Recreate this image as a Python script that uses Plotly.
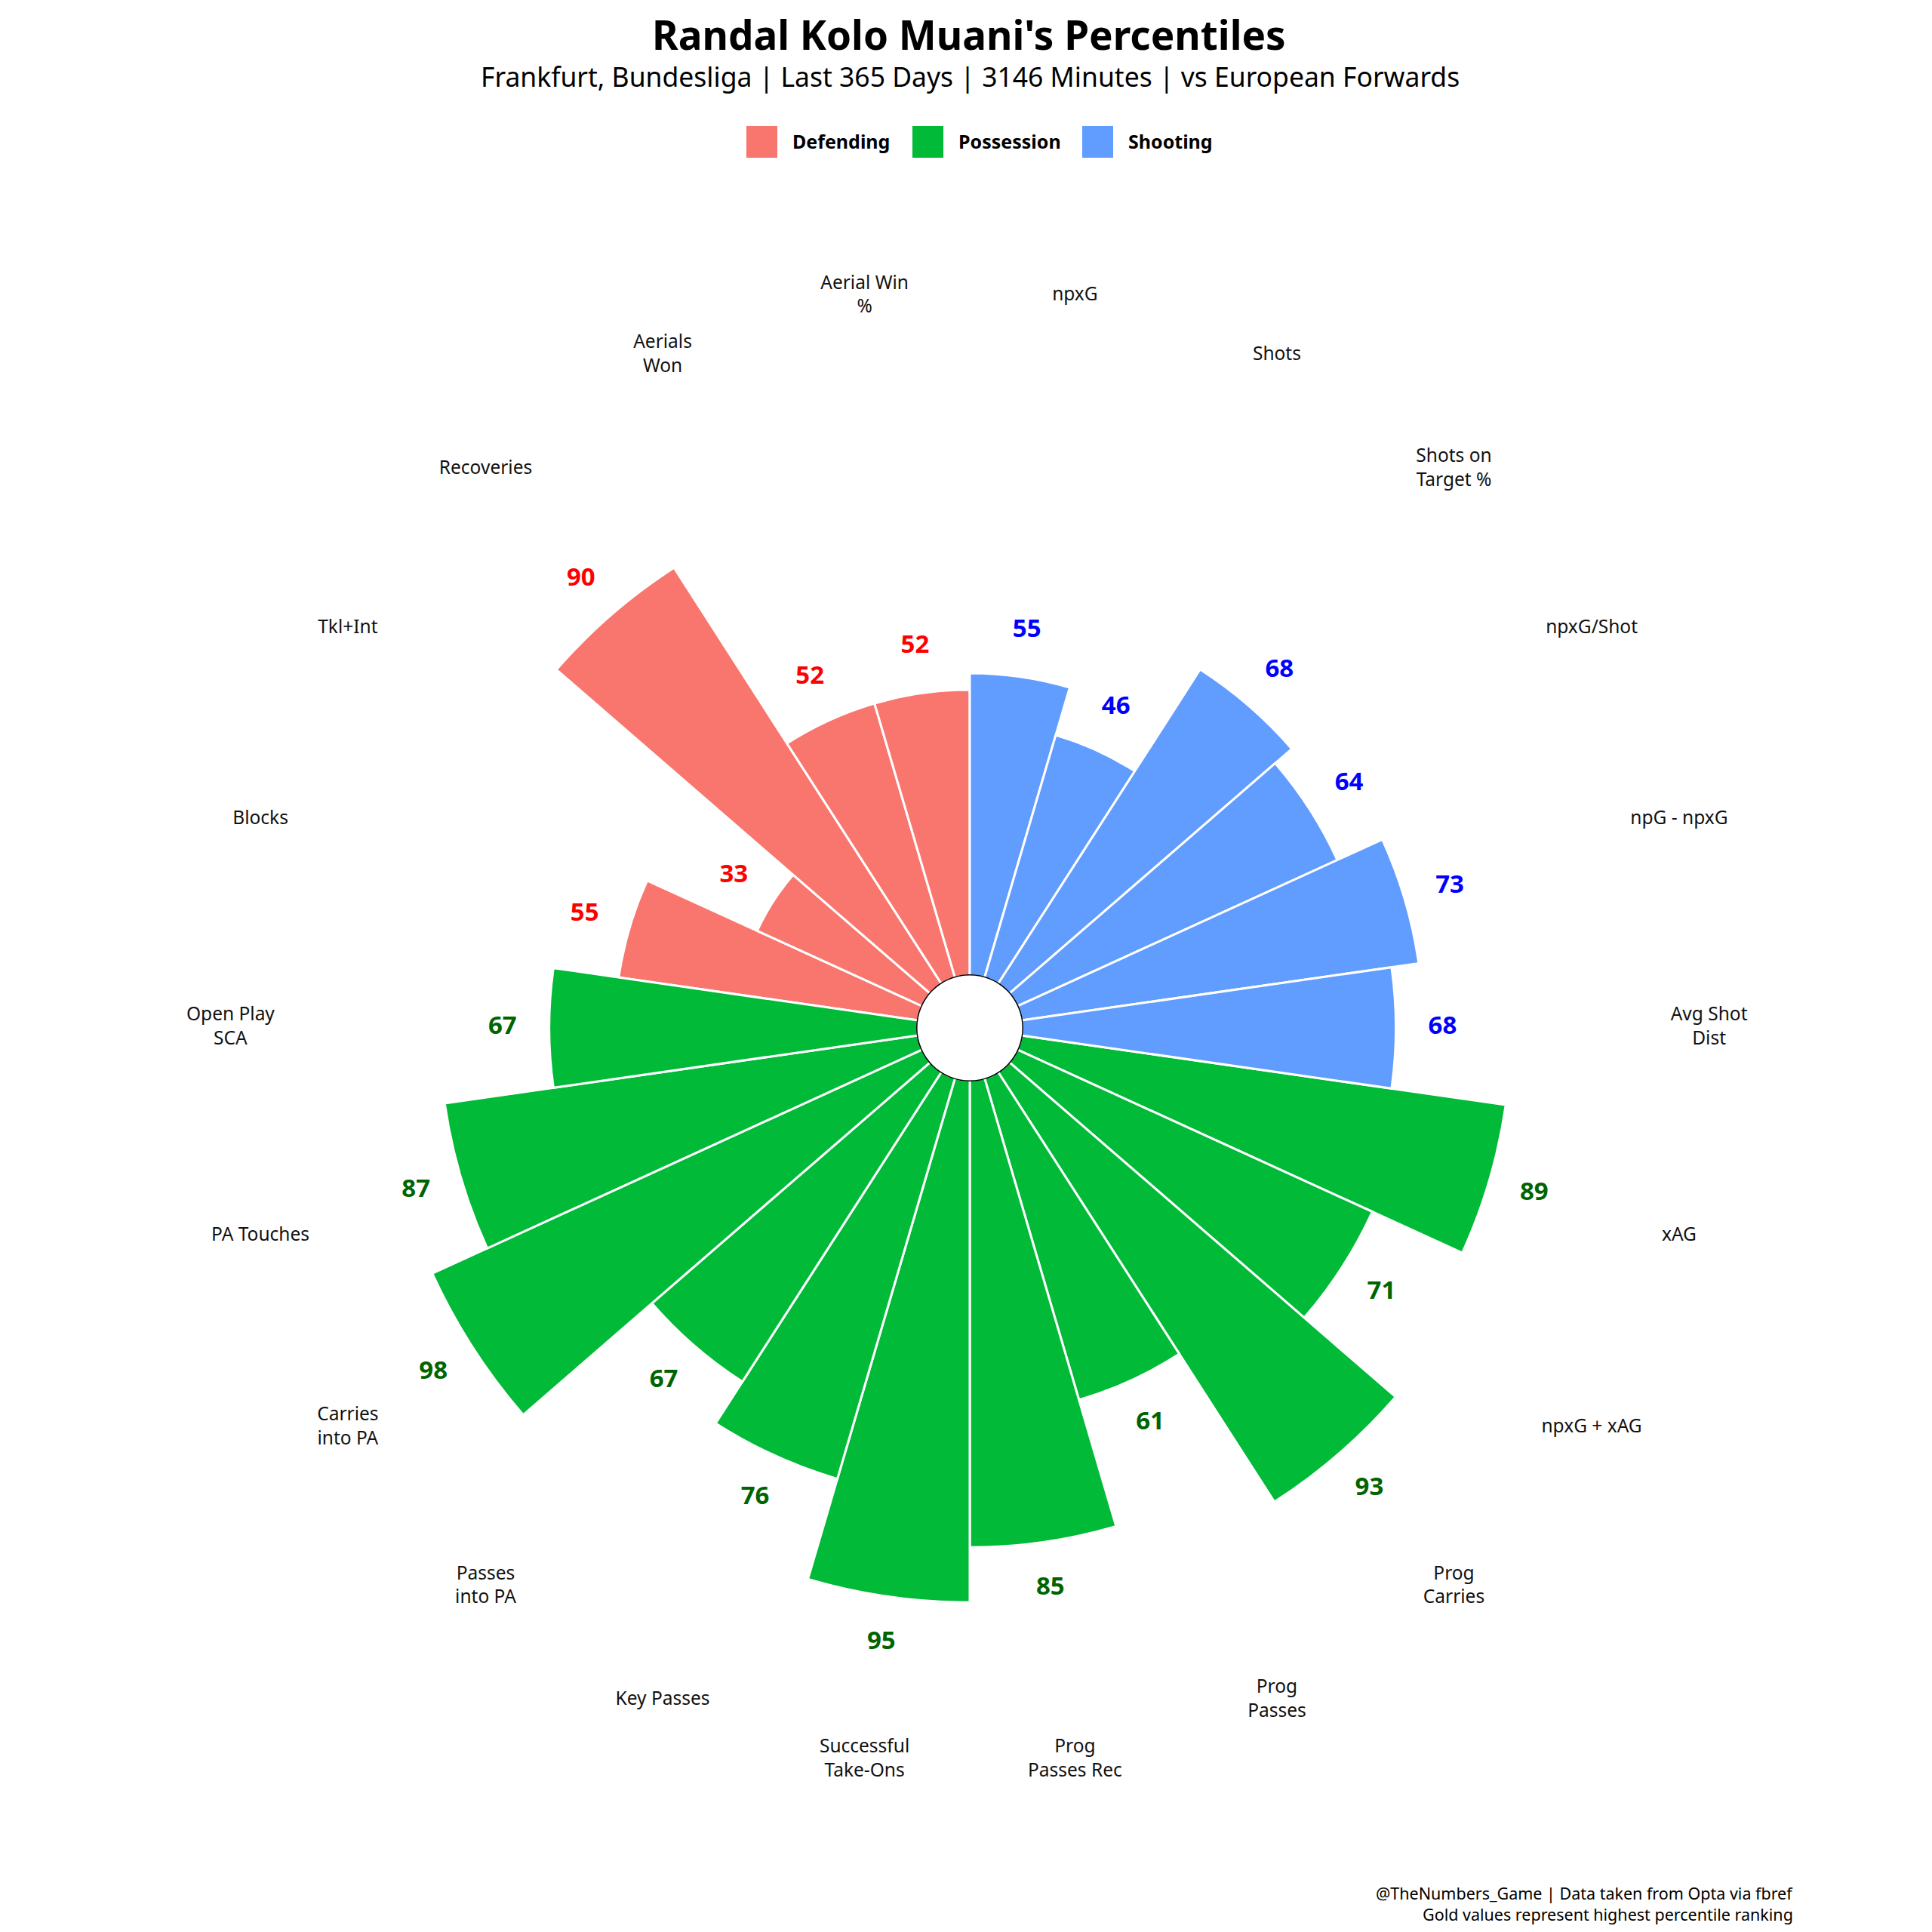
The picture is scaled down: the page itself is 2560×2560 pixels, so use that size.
import numpy as np
import plotly.graph_objects as go

# data, clockwise from 12 o'clock
metrics = [
    "npxG", "Shots", "Shots on<br>Target %", "npxG/Shot", "npG - npxG", "Avg Shot<br>Dist",
    "xAG", "npxG + xAG", "Prog<br>Carries", "Prog<br>Passes", "Prog<br>Passes Rec",
    "Successful<br>Take-Ons", "Key Passes", "Passes<br>into PA", "Carries<br>into PA",
    "PA Touches", "Open Play<br>SCA",
    "Blocks", "Tkl+Int", "Recoveries", "Aerials<br>Won", "Aerial Win<br>%",
]
percentiles = [55, 46, 68, 64, 73, 68,
               89, 71, 93, 61, 85, 95, 76, 67, 98, 87, 67,
               55, 33, 90, 52, 52]
groups = ["Shooting"] * 6 + ["Possession"] * 11 + ["Defending"] * 5

group_order = ["Defending", "Possession", "Shooting"]
bar_colors = {"Defending": "#F8766D", "Possession": "#00BA38", "Shooting": "#619CFF"}
text_colors = {"Defending": "#FF0000", "Possession": "#006400", "Shooting": "#0000FF"}

# page body has an 8px margin, so the figure is a bit smaller than the window
PAGE = 2560
OFF = 8
W = H = PAGE - 2 * OFF
FONT = "Noto Sans"

n = len(metrics)
step = 360 / n
theta = np.arange(n) * step + step / 2
vals = np.array(percentiles)
grp = np.array(groups)

fig = go.Figure()

for g in group_order:
    m = grp == g
    fig.add_trace(go.Barpolar(
        r=vals[m], theta=theta[m], width=step,
        marker=dict(color=bar_colors[g], line=dict(color="white", width=3)),
        name=g, showlegend=False, hoverinfo="skip",
    ))
    fig.add_trace(go.Scatterpolar(
        r=vals[m] + 8.5, theta=theta[m], mode="text",
        text=[str(v) for v in vals[m]],
        textfont=dict(family=FONT, size=33, color=text_colors[g], weight="bold"),
        showlegend=False, hoverinfo="skip", cliponaxis=False,
    ))

# metric names around the outside
fig.add_trace(go.Scatterpolar(
    r=[125] * n, theta=theta, mode="text", text=metrics,
    textfont=dict(family=FONT, size=24.5, color="#111111"),
    showlegend=False, hoverinfo="skip", cliponaxis=False,
))

# black ring round the hole
ring = np.linspace(0, 360, 73)
fig.add_trace(go.Scatterpolar(
    r=[0] * len(ring), theta=ring, mode="lines",
    line=dict(color="black", width=3),
    showlegend=False, hoverinfo="skip", cliponaxis=False,
))


def px(x, y):
    # page pixel -> paper coords
    return (x - OFF) / W, 1 - (y - OFF) / H


cx, cy, R = 1285, 1362, 1016
x_lo, y_hi = px(cx - R, cy - R)
x_hi, y_lo = px(cx + R, cy + R)
fig.update_layout(
    width=W, height=H,
    margin=dict(l=0, r=0, t=0, b=0),
    paper_bgcolor="white",
    polar=dict(
        domain=dict(x=[x_lo, x_hi], y=[y_lo, y_hi]),
        hole=69.5 / R,
        bgcolor="white",
        bargap=0,
        radialaxis=dict(range=[0, 130], visible=False),
        angularaxis=dict(visible=False, direction="clockwise", rotation=90),
    ),
)

annotations = []
tx, _ = px(1284, 0)
annotations.append(dict(x=tx, y=1, yanchor="top", text="<b>Randal Kolo Muani's Percentiles</b>",
                        font=dict(family=FONT, size=53, color="black")))
tx, ty = px(1285, 101)
annotations.append(dict(x=tx, y=ty,
                        text="Frankfurt, Bundesliga | Last 365 Days | 3146 Minutes | vs European Forwards",
                        font=dict(family=FONT, size=35.5, color="black")))

# legend drawn by hand
legend_x = {"Defending": 989, "Possession": 1209, "Shooting": 1434}
shapes = []
for g in group_order:
    x0 = legend_x[g]
    sx0, sy1 = px(x0, 167)
    sx1, sy0 = px(x0 + 41, 209)
    shapes.append(dict(type="rect", xref="paper", yref="paper",
                       x0=sx0, x1=sx1, y0=sy0, y1=sy1,
                       fillcolor=bar_colors[g], line=dict(width=0)))
    lx, ly = px(x0 + 60, 187)
    annotations.append(dict(x=lx, y=ly, xanchor="left", text="<b>%s</b>" % g,
                            font=dict(family=FONT, size=25, color="black")))

fx, fy = px(2377, 2508)
annotations.append(dict(x=fx, y=fy, xanchor="right",
                        text="@TheNumbers_Game | Data taken from Opta via fbref",
                        font=dict(family=FONT, size=21.5, color="black")))
fx, fy = px(2377, 2536)
annotations.append(dict(x=fx, y=fy, xanchor="right",
                        text="Gold values represent highest percentile ranking",
                        font=dict(family=FONT, size=21.5, color="black")))

for a in annotations:
    a.setdefault("yanchor", "middle")
    a.update(xref="paper", yref="paper", showarrow=False, borderpad=0)

fig.update_layout(annotations=annotations, shapes=shapes)

fig.write_html("out.html")
